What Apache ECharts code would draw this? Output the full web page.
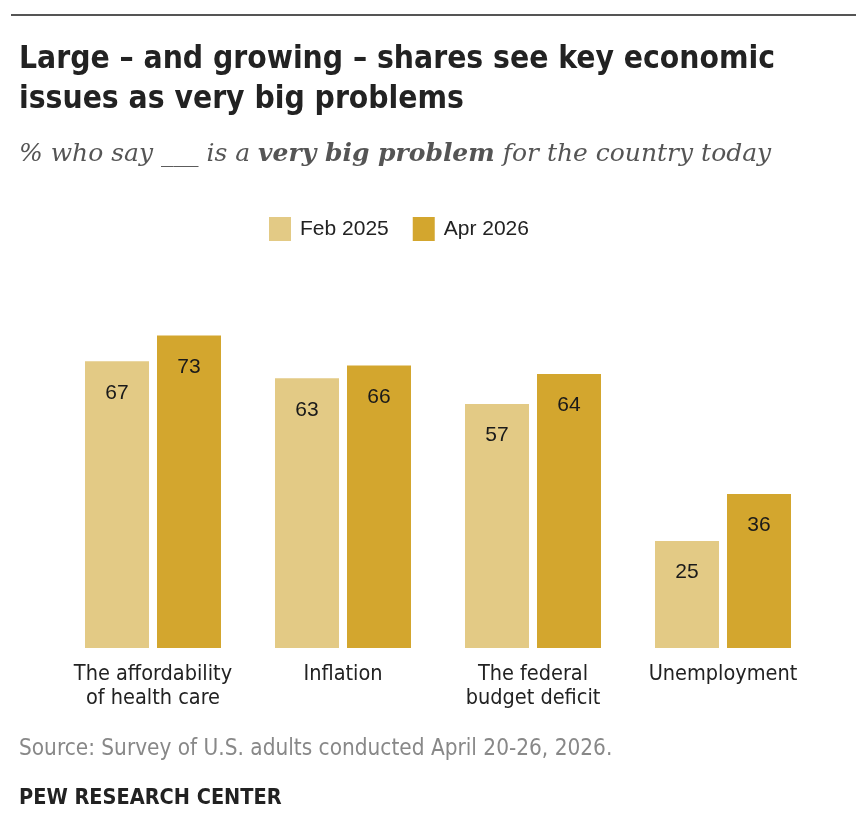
<!DOCTYPE html>
<html>
<head>
<meta charset="utf-8">
<script src="https://cdn.jsdelivr.net/npm/echarts@6/dist/echarts.min.js"></script>
<style>
  html, body { margin: 0; padding: 0; background: #fff; }
  #main { width: 856px; height: 820px; }
</style>
</head>
<body>
<div id="main"></div>
<script>
// data
var categories = ["The affordability\nof health care", "Inflation", "The federal\nbudget deficit", "Unemployment"];
var seriesNames = ["Feb 2025", "Apr 2026"];
var feb2025 = [67, 63, 57, 25];
var apr2026 = [73, 66, 64, 36];

var narrow = '"Liberation Sans Narrow", "DejaVu Sans Condensed", sans-serif';
var plain = '"Liberation Sans", Arial, sans-serif';
var serif = '"DejaVu Serif", serif';

var myChart = echarts.init(document.getElementById("main"));

// label inside the top of each bar
function barLabel() {
  return {
    show: true,
    position: "insideTop",
    distance: 21,
    color: "#1a1a1a",
    fontFamily: plain,
    fontSize: 21
  };
}

var option = {
  backgroundColor: "#fff",
  animation: false,
  title: [
    {
      text: "Large – and growing – shares see key economic\nissues as very big problems",
      left: 19,
      top: 40,
      padding: 0,
      textStyle: {
        fontFamily: narrow,
        fontWeight: "bold",
        fontSize: 31.5,
        lineHeight: 40,
        color: "#222"
      }
    },
    {
      text: "{i|% who say ___ is a }{b|very big problem}{i| for the country today}",
      left: 19,
      top: 142,
      padding: 0,
      textStyle: {
        fontWeight: "normal",
        rich: {
          i: { fontFamily: serif, fontStyle: "italic", fontWeight: "normal", fontSize: 25, color: "#555" },
          b: { fontFamily: serif, fontStyle: "italic", fontWeight: "bold", fontSize: 25, color: "#555" }
        }
      }
    },
    {
      text: "Source: Survey of U.S. adults conducted April 20-26, 2026.",
      left: 19,
      top: 738,
      padding: 0,
      textStyle: { fontFamily: narrow, fontWeight: "normal", fontSize: 22.4, color: "#888" }
    },
    {
      text: "PEW RESEARCH CENTER",
      left: 19,
      top: 787,
      padding: 0,
      textStyle: { fontFamily: narrow, fontWeight: "bold", fontSize: 21.5, color: "#222" }
    }
  ],
  graphic: [
    {
      type: "line",
      shape: { x1: 11, y1: 15, x2: 856, y2: 15 },
      style: { stroke: "#555", lineWidth: 2 }
    }
  ],
  legend: {
    data: seriesNames,
    left: 269,
    top: 217,
    padding: 0,
    icon: "rect",
    itemWidth: 22,
    itemHeight: 24,
    itemGap: 24,
    textStyle: { fontFamily: plain, fontSize: 21, color: "#222", padding: [0, 0, 0, 4] }
  },
  grid: { left: 58, right: 38, top: 220, bottom: 172 },
  xAxis: {
    type: "category",
    data: categories,
    axisLine: { show: false },
    axisTick: { show: false },
    axisLabel: {
      margin: 14,
      fontFamily: narrow,
      fontSize: 21.5,
      lineHeight: 24,
      color: "#222",
      interval: 0
    }
  },
  yAxis: {
    type: "value",
    min: 0,
    max: 100,
    show: false,
    splitLine: { show: false }
  },
  series: [
    {
      name: seriesNames[0],
      type: "bar",
      data: feb2025,
      barWidth: 64,
      barGap: "12.5%",
      itemStyle: { color: "#e3ca85" },
      label: barLabel()
    },
    {
      name: seriesNames[1],
      type: "bar",
      data: apr2026,
      barWidth: 64,
      barGap: "12.5%",
      itemStyle: { color: "#d3a62e" },
      label: barLabel()
    }
  ]
};

myChart.setOption(option);
</script>
</body>
</html>
